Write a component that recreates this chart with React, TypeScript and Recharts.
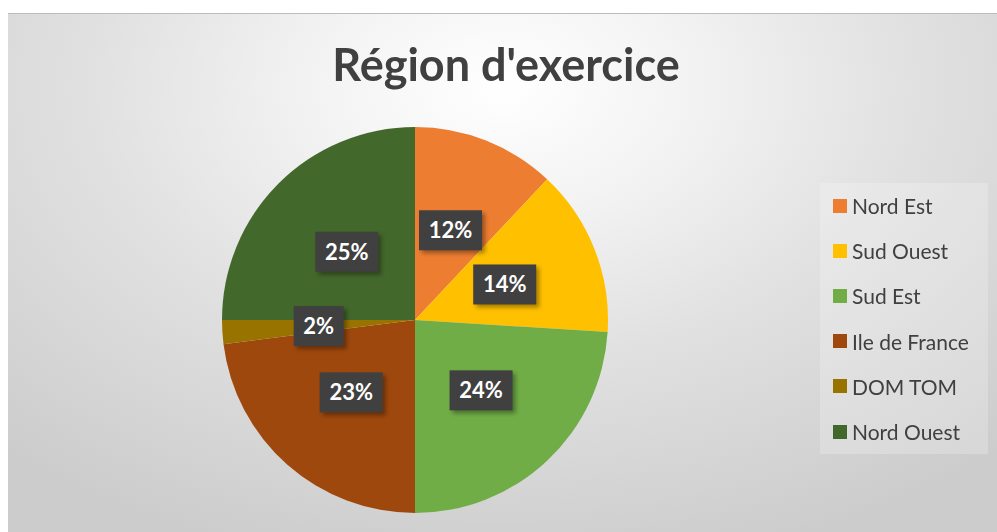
import React from 'react';
import { PieChart, Pie, Cell, Legend } from 'recharts';

// parts of the pie, clockwise from 12 o'clock
const regions = ['Nord Est', 'Sud Ouest', 'Sud Est', 'Ile de France', 'DOM TOM', 'Nord Ouest'];
const shares = [12, 14, 24, 23, 2, 25];
const sliceColors = ['#ED7D31', '#FFC000', '#70AD47', '#9E480E', '#997300', '#43682B'];

const data = regions.map((name, i) => ({ name, value: shares[i] }));

const RAD = Math.PI / 180;
const FONT = 'Lato, "Open Sans", sans-serif';

function renderLabel(props: any) {
  const { cx, cy, midAngle, outerRadius, percent } = props;
  const r = outerRadius * 0.5;
  const x = cx + r * Math.cos(-midAngle * RAD);
  const y = cy + r * Math.sin(-midAngle * RAD);
  const txt = `${Math.round(percent * 100)}%`;
  const w = txt.length > 2 ? 63 : 50;
  const h = 40;
  return (
    <g>
      <rect x={x - w / 2 + 3} y={y - h / 2 + 3} width={w} height={h} fill="#000" opacity={0.35} filter="url(#lblShadow)" />
      <rect x={x - w / 2} y={y - h / 2} width={w} height={h} fill="#404040" />
      <text x={x} y={y} dy={8} textAnchor="middle" fill="#fff" fontFamily={FONT} fontWeight={700} fontSize={22}>
        {txt}
      </text>
    </g>
  );
}

function LegendBox() {
  return (
    <div style={{ width: 168, height: 271, background: 'rgba(255,255,255,0.22)', fontFamily: FONT }}>
      {regions.map((name, i) => (
        <div key={name} style={{ display: 'flex', alignItems: 'center', height: 45.2, paddingLeft: 13 }}>
          <span style={{ width: 14, height: 14, background: sliceColors[i], display: 'inline-block', flexShrink: 0 }} />
          <span style={{ marginLeft: 5, fontSize: 21, color: '#404040', whiteSpace: 'nowrap' }}>{name}</span>
        </div>
      ))}
    </div>
  );
}

export default function App() {
  return (
    <div
      style={{
        position: 'fixed',
        left: 8,
        top: 13,
        width: 989,
        height: 519,
        borderTop: '1px solid #bcbcbc',
        boxSizing: 'border-box',
        background: 'radial-gradient(ellipse 75% 95% at 50% 14%, #ffffff 0%, #f3f3f3 25%, #e1e1e1 55%, #cccccc 100%)',
        overflow: 'hidden',
      }}
    >
      <svg width={0} height={0} style={{ position: 'absolute' }}>
        <defs>
          <filter id="lblShadow" x="-20%" y="-20%" width="140%" height="140%">
            <feGaussianBlur stdDeviation="2" />
          </filter>
        </defs>
      </svg>
      <div
        style={{
          position: 'absolute',
          left: 0,
          top: 28,
          width: 996,
          height: 44,
          lineHeight: '44px',
          textAlign: 'center',
          fontFamily: FONT,
          fontWeight: 700,
          fontSize: 45,
          color: '#404040',
        }}
      >
        Région d'exercice
      </div>
      <PieChart width={989} height={518} margin={{ top: 0, right: 0, bottom: 0, left: 0 }}>
        <Pie
          data={data}
          dataKey="value"
          nameKey="name"
          cx={407}
          cy={306}
          outerRadius={193}
          startAngle={90}
          endAngle={-270}
          stroke="none"
          label={renderLabel}
          labelLine={false}
          isAnimationActive={false}
        >
          {data.map((d, i) => (
            <Cell key={d.name} fill={sliceColors[i]} />
          ))}
        </Pie>
        <Legend
          layout="vertical"
          align="right"
          verticalAlign="middle"
          content={() => <LegendBox />}
          wrapperStyle={{ left: 812, top: 169, width: 168, height: 271 }}
        />
      </PieChart>
    </div>
  );
}
